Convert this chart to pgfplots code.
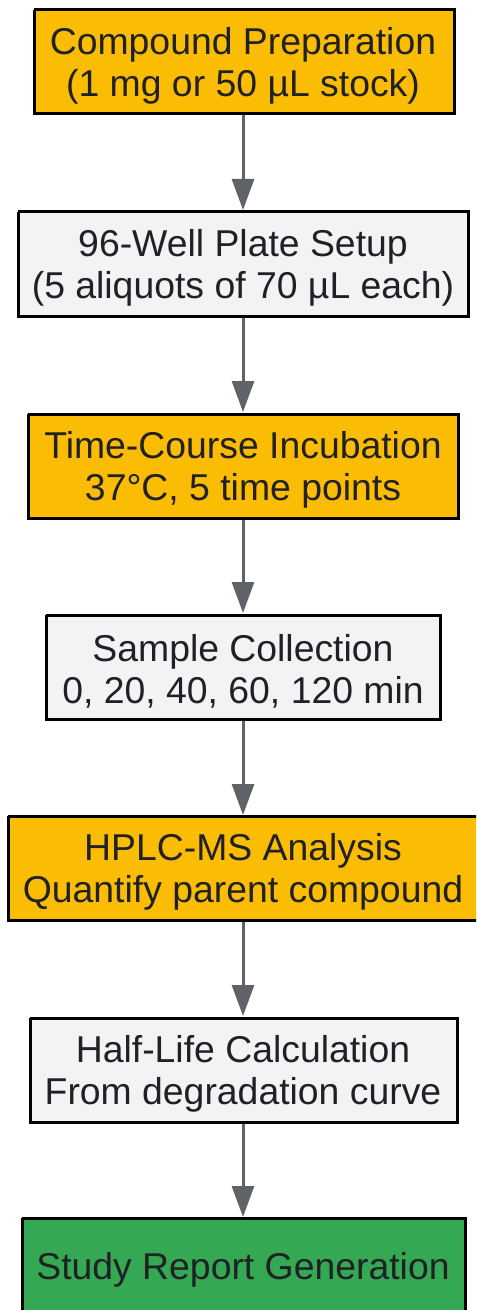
\documentclass[border=0pt]{standalone}
\usepackage{pgfplots}
\pgfplotsset{compat=1.18}
\usepackage{fontspec}
\setmainfont{Liberation Sans}
\usetikzlibrary{arrows.meta}
\definecolor{orangebox}{HTML}{FBBC04}
\definecolor{graybox}{HTML}{F1F3F4}
\definecolor{greenbox}{HTML}{34A853}
\definecolor{arrowgray}{HTML}{5F6368}
\definecolor{txt}{HTML}{202124}
\begin{document}
\begin{tikzpicture}
\begin{axis}[
  width=476bp, height=1310bp, scale only axis,
  xmin=0, xmax=476, ymin=0, ymax=1310,
  y dir=reverse, hide axis, clip=true,
]
% arrows
\addplot[draw=arrowgray, line width=3bp, -{Triangle[width=22bp,length=31bp]}] coordinates {(243,115) (243,210)};
\addplot[draw=arrowgray, line width=3bp, -{Triangle[width=22bp,length=31bp]}] coordinates {(243,317) (243,412)};
\addplot[draw=arrowgray, line width=3bp, -{Triangle[width=22bp,length=31bp]}] coordinates {(243,519) (243,613)};
\addplot[draw=arrowgray, line width=3bp, -{Triangle[width=22bp,length=31bp]}] coordinates {(243,720) (243,815)};
\addplot[draw=arrowgray, line width=3bp, -{Triangle[width=22bp,length=31bp]}] coordinates {(243,921) (243,1016)};
\addplot[draw=arrowgray, line width=3bp, -{Triangle[width=22bp,length=31bp]}] coordinates {(243,1123) (243,1217)};
% boxes
\addplot[fill=orangebox, draw=black, line width=3bp] coordinates {(34,10) (454,10) (454,114) (34,114) (34,10)};
\addplot[fill=graybox, draw=black, line width=3bp] coordinates {(18,212) (468,212) (468,316) (18,316) (18,212)};
\addplot[fill=orangebox, draw=black, line width=3bp] coordinates {(28,414) (458,414) (458,518) (28,518) (28,414)};
\addplot[fill=graybox, draw=black, line width=3bp] coordinates {(46,615) (440,615) (440,719) (46,719) (46,615)};
\addplot[fill=orangebox, draw=black, line width=3bp] coordinates {(8,816) (480,816) (480,920) (8,920) (8,816)};
\addplot[fill=graybox, draw=black, line width=3bp] coordinates {(30,1018) (457,1018) (457,1122) (30,1122) (30,1018)};
\addplot[fill=greenbox, draw=black, line width=3bp] coordinates {(22,1218) (465,1218) (465,1340) (22,1340) (22,1218)};
% labels
\tikzset{lbl/.style={align=center, text=txt, font=\fontsize{37.5}{42}\selectfont, inner sep=0pt}}
\node[lbl] at (axis cs:243,66) {Compound Preparation\\(1 mg or 50 µL stock)};
\node[lbl] at (axis cs:243,268) {96-Well Plate Setup\\(5 aliquots of 70 µL each)};
\node[lbl] at (axis cs:243,470) {Time-Course Incubation\\37°C, 5 time points};
\node[lbl] at (axis cs:243,671) {Sample Collection\\0, 20, 40, 60, 120 min};
\node[lbl] at (axis cs:243,872) {HPLC-MS Analysis\\Quantify parent compound};
\node[lbl] at (axis cs:243,1074) {Half-Life Calculation\\From degradation curve};
\node[lbl] at (axis cs:243,1270) {Study Report Generation};
\end{axis}
\pgfresetboundingbox
\useasboundingbox (current axis.south west) rectangle (current axis.north east);
\end{tikzpicture}
\end{document}
